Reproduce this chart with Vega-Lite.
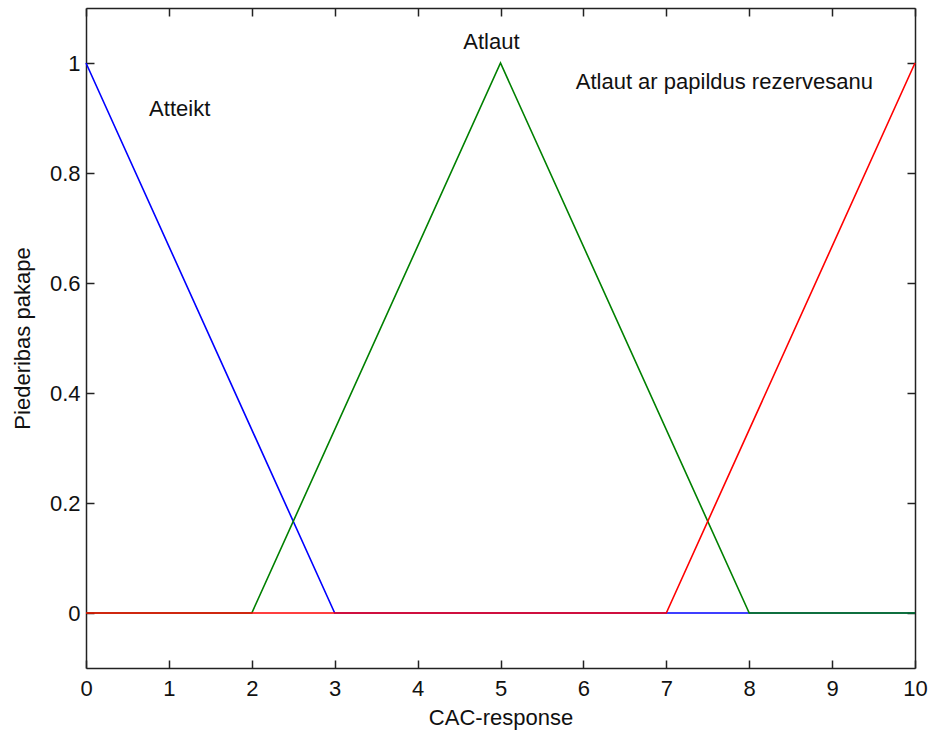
{
  "$schema": "https://vega.github.io/schema/vega-lite/v6.json",
  "width": 829,
  "height": 660,
  "autosize": {"type": "none"},
  "padding": {"left": 86, "top": 8, "right": 16, "bottom": 63},
  "background": "white",
  "config": {
    "view": {"stroke": null},
    "font": "Liberation Sans",
    "axis": {
      "grid": false,
      "domainColor": "#222222",
      "domainWidth": 1.5,
      "tickColor": "#222222",
      "tickWidth": 1.5,
      "tickSize": -8,
      "labelFlush": false,
      "labelOverlap": false,
      "labelFont": "Liberation Sans",
      "labelFontSize": 22,
      "labelColor": "#111111",
      "titleFont": "Liberation Sans",
      "titleFontSize": 22,
      "titleFontWeight": "normal",
      "titleColor": "#111111"
    }
  },
  "datasets": {
    "mf": [
      {"set": "Atteikt", "x": 0, "mu": 1},
      {"set": "Atteikt", "x": 3, "mu": 0},
      {"set": "Atteikt", "x": 10, "mu": 0},
      {"set": "Atlaut", "x": 0, "mu": 0},
      {"set": "Atlaut", "x": 2, "mu": 0},
      {"set": "Atlaut", "x": 5, "mu": 1},
      {"set": "Atlaut", "x": 8, "mu": 0},
      {"set": "Atlaut", "x": 10, "mu": 0},
      {"set": "Rezerve", "x": 0, "mu": 0},
      {"set": "Rezerve", "x": 7, "mu": 0},
      {"set": "Rezerve", "x": 10, "mu": 1}
    ],
    "names": [
      {"text": "Atteikt", "x": 1.13, "mu": 0.903},
      {"text": "Atlaut", "x": 4.89, "mu": 1.025},
      {"text": "Atlaut ar papildus rezervesanu", "x": 7.7, "mu": 0.953}
    ]
  },
  "layer": [
    {
      "data": {"name": "mf"},
      "transform": [{"filter": "datum.set === 'Atteikt'"}],
      "mark": {"type": "line", "color": "#0000FF", "strokeWidth": 1.6},
      "encoding": {
        "x": {
          "field": "x", "type": "quantitative",
          "scale": {"domain": [0, 10], "nice": false},
          "axis": {"orient": "bottom", "values": [0,1,2,3,4,5,6,7,8,9,10], "title": "CAC-response", "labelPadding": 18, "titlePadding": 8}
        },
        "y": {
          "field": "mu", "type": "quantitative",
          "scale": {"domain": [-0.1, 1.1], "nice": false, "zero": false},
          "axis": {"orient": "left", "values": [0,0.2,0.4,0.6,0.8,1], "format": "~g", "title": "Piederibas pakape", "labelPadding": 14, "titlePadding": 15}
        }
      }
    },
    {
      "data": {"name": "mf"},
      "transform": [{"filter": "datum.set === 'Atlaut'"}],
      "mark": {"type": "line", "color": "#008000", "strokeWidth": 1.6},
      "encoding": {
        "x": {"field": "x", "type": "quantitative", "axis": null},
        "y": {"field": "mu", "type": "quantitative", "axis": null}
      }
    },
    {
      "data": {"name": "mf"},
      "transform": [{"filter": "datum.set === 'Rezerve'"}],
      "mark": {"type": "line", "color": "#FF0000", "strokeWidth": 1.6},
      "encoding": {
        "x": {
          "field": "x", "type": "quantitative",
          "axis": {"orient": "top", "values": [0,1,2,3,4,5,6,7,8,9,10], "labels": false, "title": null}
        },
        "y": {
          "field": "mu", "type": "quantitative",
          "axis": {"orient": "right", "values": [0,0.2,0.4,0.6,0.8,1], "labels": false, "title": null}
        }
      }
    },
    {
      "data": {"name": "names"},
      "mark": {"type": "text", "align": "center", "baseline": "alphabetic", "font": "Liberation Sans", "fontSize": 22, "color": "#111111"},
      "encoding": {
        "x": {"field": "x", "type": "quantitative", "axis": null},
        "y": {"field": "mu", "type": "quantitative", "axis": null},
        "text": {"field": "text"}
      }
    }
  ],
  "resolve": {"axis": {"x": "independent", "y": "independent"}}
}
